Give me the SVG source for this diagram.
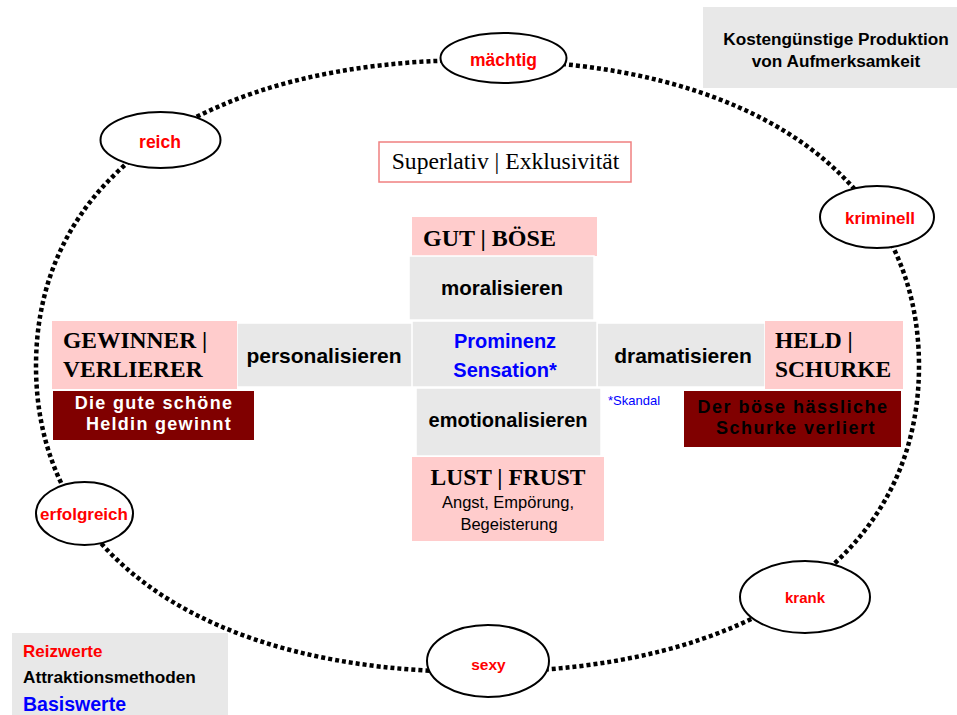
<svg xmlns="http://www.w3.org/2000/svg" width="957" height="715" viewBox="0 0 957 715">
<style>
.sans{font-family:"Liberation Sans",Arial,sans-serif;font-weight:bold}
.serif{font-family:"Liberation Serif","Times New Roman",serif}
.gray{fill:#e8e8e8;stroke:#ffffff;stroke-width:1.5}
.pink{fill:#ffcccc}
.dark{fill:#800000}
.oval{fill:#ffffff;stroke:#000000;stroke-width:2}
.red{fill:#ff0000}
.blue{fill:#0000ff}
.mid{text-anchor:middle}
.ring{fill:none;stroke:#000000;stroke-width:4.5;stroke-dasharray:4 3}
</style>
<rect width="957" height="715" fill="#ffffff"/>

<g id="connectors">
<path class="ring" d="M478,60 C751,60 919,176 919,366 C919,556 751,672 478,672 C205,672 36,556 36,366 C36,176 205,60 478,60 Z"/>
</g>

<g id="kosten">
<rect x="703" y="7" width="254" height="81" fill="#e8e8e8"/>
<text class="sans mid" x="836" y="45" font-size="17.2" fill="#000">Kostengünstige Produktion</text>
<text class="sans mid" x="836" y="67" font-size="17.2" fill="#000">von Aufmerksamkeit</text>
</g>

<g id="superlativ">
<rect x="379" y="142" width="252" height="40" fill="#ffffff" stroke="#f08080" stroke-width="1.5"/>
<text class="serif mid" x="505.5" y="169" font-size="23.6" fill="#000">Superlativ | Exklusivität</text>
</g>

<g id="gutboese">
<rect class="pink" x="412" y="217" width="185" height="39"/>
<text class="serif" x="423" y="246" font-size="24" font-weight="bold" fill="#000">GUT | BÖSE</text>
</g>

<g id="moralisieren">
<rect class="gray" x="409" y="256" width="185" height="64"/>
<text class="sans mid" x="502" y="295" font-size="20.5" fill="#000">moralisieren</text>
</g>

<g id="personalisieren">
<rect class="gray" x="237" y="323" width="176" height="64"/>
<text class="sans mid" x="324" y="363" font-size="21" fill="#000">personalisieren</text>
</g>

<g id="dramatisieren">
<rect class="gray" x="597" y="323" width="168" height="64"/>
<text class="sans mid" x="683" y="363" font-size="21" fill="#000">dramatisieren</text>
</g>

<g id="emotionalisieren">
<rect class="gray" x="416" y="388" width="185" height="68"/>
<text class="sans mid" x="508" y="427" font-size="20" fill="#000">emotionalisieren</text>
</g>

<g id="zentrum">
<rect class="gray" x="412" y="321" width="185" height="66"/>
<text class="sans mid blue" x="505" y="348" font-size="20">Prominenz</text>
<text class="sans mid blue" x="505" y="377" font-size="20">Sensation*</text>
</g>

<g id="lustfrust">
<rect class="pink" x="412" y="457" width="192" height="84"/>
<text class="serif mid" x="508" y="485" font-size="23.5" font-weight="bold" fill="#000">LUST | FRUST</text>
<text class="mid" x="508" y="508" font-size="16.5" fill="#000" font-family="Liberation Sans, Arial, sans-serif">Angst, Empörung,</text>
<text class="mid" x="509" y="530" font-size="16.5" fill="#000" font-family="Liberation Sans, Arial, sans-serif">Begeisterung</text>
</g>

<g id="gewinner">
<rect class="pink" x="52" y="321" width="185" height="68"/>
<text class="serif" x="63" y="348" font-size="23.5" font-weight="bold" fill="#000">GEWINNER |</text>
<text class="serif" x="63" y="377" font-size="23.5" font-weight="bold" fill="#000">VERLIERER</text>
</g>

<g id="heldin">
<rect class="dark" x="53" y="391" width="201" height="49"/>
<text class="sans mid" x="154" y="409" font-size="18" letter-spacing="1.3" fill="#ffffff">Die gute schöne</text>
<text class="sans mid" x="159" y="430" font-size="18" letter-spacing="1.3" fill="#ffffff">Heldin gewinnt</text>
</g>

<g id="held">
<rect class="pink" x="765" y="321" width="138" height="68"/>
<text class="serif" x="775" y="348" font-size="23.5" font-weight="bold" fill="#000">HELD |</text>
<text class="serif" x="775" y="377" font-size="23.5" font-weight="bold" fill="#000">SCHURKE</text>
</g>

<g id="schurke">
<rect class="dark" x="684" y="391" width="217" height="56"/>
<text class="sans mid" x="793" y="413" font-size="18" letter-spacing="1.5" fill="#000">Der böse hässliche</text>
<text class="sans mid" x="796" y="434" font-size="18" letter-spacing="1.5" fill="#000">Schurke verliert</text>
</g>

<g id="skandal">
<text x="608" y="405" font-size="13" fill="#0000ff" font-family="Liberation Sans, Arial, sans-serif">*Skandal</text>
</g>

<g id="maechtig">
<ellipse class="oval" cx="503.5" cy="58" rx="63" ry="25"/>
<text class="sans mid red" x="503.5" y="66" font-size="17.5">mächtig</text>
</g>

<g id="reich">
<ellipse class="oval" cx="160.5" cy="140" rx="60" ry="28"/>
<text class="sans mid red" x="160" y="148" font-size="17.5">reich</text>
</g>

<g id="kriminell">
<ellipse class="oval" cx="877" cy="217" rx="57" ry="31"/>
<text class="sans mid red" x="880" y="224" font-size="17">kriminell</text>
</g>

<g id="erfolgreich">
<ellipse class="oval" cx="84.5" cy="513.5" rx="48.5" ry="31.5"/>
<text class="sans mid red" x="84" y="520" font-size="17">erfolgreich</text>
</g>

<g id="krank">
<ellipse class="oval" cx="805" cy="597" rx="65" ry="36"/>
<text class="sans mid red" x="805" y="603" font-size="15">krank</text>
</g>

<g id="sexy">
<ellipse class="oval" cx="488" cy="661" rx="61" ry="36"/>
<text class="sans mid red" x="488.5" y="670" font-size="15.5">sexy</text>
</g>

<g id="legende">
<rect x="12" y="633" width="216" height="82" fill="#e8e8e8"/>
<text class="sans red" x="23" y="657" font-size="17">Reizwerte</text>
<text class="sans" x="23" y="683" font-size="17.2" fill="#000">Attraktionsmethoden</text>
<text class="sans blue" x="23" y="711" font-size="19.5">Basiswerte</text>
</g>
</svg>
